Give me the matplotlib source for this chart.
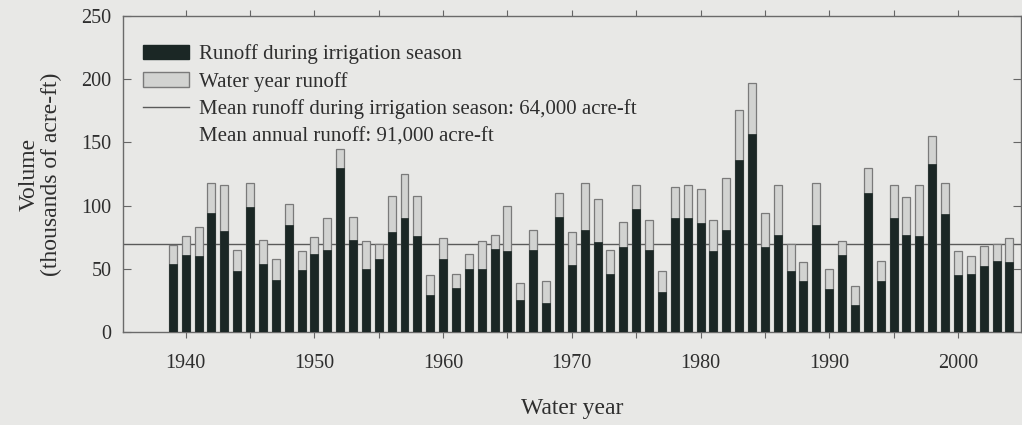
import matplotlib.pyplot as plt
from matplotlib.lines import Line2D
from matplotlib.patches import Patch
from matplotlib.ticker import MultipleLocator

# water years 1939-2004
years = list(range(1939, 2005))

# total water year runoff (thousands of acre-ft)
water_year = [69, 76, 83, 118, 116, 65, 118, 73, 58, 101, 64, 75, 90, 145, 91, 72,
              70, 108, 125, 108, 45, 74, 46, 62, 72, 77, 100, 39, 81, 40, 110, 79,
              118, 105, 65, 87, 116, 89, 48, 115, 116, 113, 89, 122, 176, 197, 94, 116,
              70, 55, 118, 50, 72, 36, 130, 56, 116, 107, 116, 155, 118, 64,
              60, 68, 70, 74]

# runoff during irrigation season
irrigation = [54, 61, 60, 94, 80, 48, 99, 54, 41, 85, 49, 62, 65, 130, 73, 50,
              58, 79, 90, 76, 29, 58, 35, 50, 50, 66, 64, 25, 65, 23, 91, 53,
              81, 71, 46, 67, 97, 65, 32, 90, 90, 86, 64, 81, 136, 157, 67, 77,
              48, 40, 85, 34, 61, 21, 110, 40, 90, 77, 76, 133, 93, 45,
              46, 52, 56, 55]

mean_line = 70

bg = '#e8e8e6'
dark = '#1b2725'
light = '#d2d3d1'
txt = '#2e2e2e'

plt.rcParams['font.family'] = ['Liberation Serif', 'DejaVu Serif']

fig = plt.figure(figsize=(10.22, 4.25), dpi=100, facecolor=bg)
ax = fig.add_axes([0.120, 0.219, 0.879, 0.743])
ax.set_facecolor(bg)

ax.bar(years, water_year, width=0.62, color=light, edgecolor='#7a7a7a', linewidth=0.9, zorder=2)
ax.bar(years, irrigation, width=0.62, color=dark, edgecolor=dark, linewidth=0.5, zorder=3)
ax.axhline(mean_line, color='#5a5a5a', linewidth=1.0, zorder=1)

ax.set_xlim(1935.1, 2004.9)
ax.set_ylim(0, 250)
ax.xaxis.set_major_locator(MultipleLocator(10))
ax.xaxis.set_minor_locator(MultipleLocator(5))
ax.yaxis.set_major_locator(MultipleLocator(50))

ax.tick_params(axis='x', which='both', direction='out', length=4, width=0.8, colors='#666666',
               labelcolor=txt, labelsize=14.5, pad=12, top=True)
ax.tick_params(axis='y', which='major', direction='in', length=6, width=0.8, colors='#666666',
               labelcolor=txt, labelsize=14.5, pad=8, right=True)
for s in ax.spines.values():
    s.set_color('#6a6a6a')
    s.set_linewidth(1.0)

ax.set_xlabel('Water year', fontsize=17, color=txt, labelpad=18)
ax.set_ylabel('Volume\n(thousands of acre-ft)', fontsize=17, color=txt, labelpad=14,
              linespacing=1.05)

handles = [
    Patch(facecolor=dark, edgecolor=dark),
    Patch(facecolor=light, edgecolor='#7a7a7a'),
    Line2D([], [], color='#5a5a5a', linewidth=1.0),
    Line2D([], [], linestyle='none'),
]
labels = [
    'Runoff during irrigation season',
    'Water year runoff',
    'Mean runoff during irrigation season: 64,000 acre-ft',
    'Mean annual runoff: 91,000 acre-ft',
]
leg = ax.legend(handles, labels, loc='upper left', bbox_to_anchor=(0.0226, 0.91), frameon=False,
                fontsize=15, handlelength=2.2, handleheight=0.67, handletextpad=0.5,
                labelspacing=0.36, borderaxespad=0, borderpad=0)
for t in leg.get_texts():
    t.set_color(txt)

fig.savefig('out.png', dpi=100, facecolor=bg)
